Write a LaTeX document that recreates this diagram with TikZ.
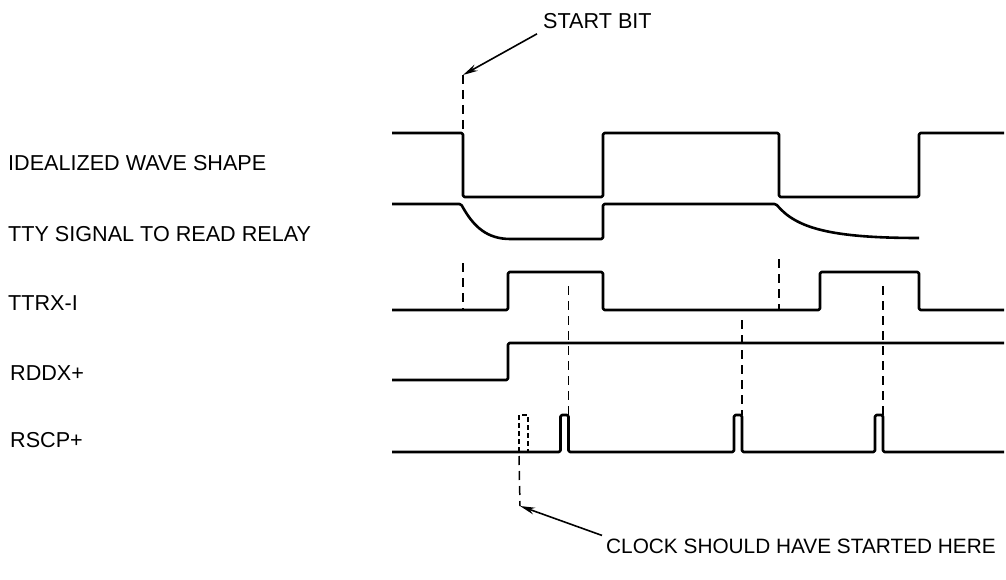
\documentclass[tikz,border=0pt]{standalone}
\usepackage{fontspec}
\setmainfont{Liberation Sans}
\usetikzlibrary{arrows.meta}
\begin{document}
\begin{tikzpicture}[x=1pt,y=-1pt,
  wave/.style={line width=2.6pt, line join=round, rounded corners=1.5pt},
  guide/.style={line width=1.5pt, dash pattern=on 9pt off 6pt},
  lbl/.style={anchor=west, inner sep=0pt, font=\fontsize{21.6}{24}\selectfont},
  note/.style={line width=1.6pt, -{Stealth[length=15pt,width=7pt]}}]
\fill[white] (0,0) rectangle (1006,580);
\useasboundingbox (0,0) rectangle (1006,580);

% labels
\node[lbl] (l1) at (8,163) {IDEALIZED WAVE SHAPE};
\node[lbl] (l2) at (8,234) {TTY SIGNAL TO READ RELAY};
\node[lbl] (l3) at (8,303) {TTRX-I};
\node[lbl] (l4) at (10,373) {RDDX+};
\node[lbl] (l5) at (10,440) {RSCP+};
\node[lbl] (startbit) at (543,21) {START BIT};
\node[lbl, font=\fontsize{20.8}{24}\selectfont] (clock) at (606,546) {CLOCK SHOULD HAVE STARTED HERE};

% waveforms
\draw[wave] (392,133) -- (463,133) -- (463,197) -- (603,197) -- (603,133) -- (779,133) -- (779,197) -- (919,197) -- (919,133) -- (1004,133);
\draw[wave] (392,204) -- (461,204) .. controls (474,228) and (488,239) .. (512,239) -- (603,239) -- (603,204) -- (776,204) .. controls (796,228) and (830,238) .. (919,238);
\draw[wave] (392,310) -- (508,310) -- (508,272) -- (603,272) -- (603,310) -- (820,310) -- (820,272) -- (919,272) -- (919,310) -- (1004,310);
\draw[wave] (392,380) -- (508,380) -- (508,343) -- (1004,343);
\draw[wave] (392,452) -- (560.5,452) -- (560.5,415) -- (568.5,415) -- (568.5,452) -- (734,452) -- (734,415) -- (742,415) -- (742,452) -- (875,452) -- (875,415) -- (883,415) -- (883,452) -- (1004,452);

% dashed guides
\coordinate (sbtip) at (463,75);
\coordinate (clktip) at (520,506);
\draw[guide] (sbtip) -- (463,133);
\draw[guide] (463,263) -- (463,310);
\draw[guide] (779,259) -- (779,310);
\draw[guide] (568.5,286) -- (568.5,415);
\draw[guide] (742,320) -- (742,415);
\draw[guide] (883,286) -- (883,415);
\draw[line width=1.8pt, dash pattern=on 5pt off 3pt] (519,452) -- (519,415) -- (528,415) -- (528,452);
\draw[guide] (519,456) -- (clktip);

% arrows
\draw[note] ([xshift=-6pt,yshift=-5pt]startbit.south west) -- (sbtip);
\draw[note] ([xshift=-4pt,yshift=3pt]clock.north west) -- (clktip);
\end{tikzpicture}
\end{document}
